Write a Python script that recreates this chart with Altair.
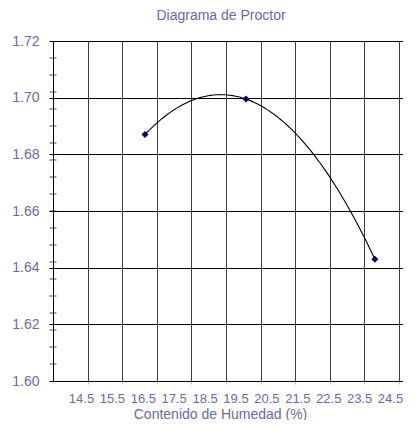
import altair as alt
import pandas as pd

# Data
moisture = [16.57, 19.84, 24.01]         # Contenido de Humedad (%)
density = [1.687, 1.6995, 1.643]         # densidad seca

x_labels = [14.5, 15.5, 16.5, 17.5, 18.5, 19.5, 20.5, 21.5, 22.5, 23.5, 24.5]
x_grid = [14.5, 15.5, 16.5, 17.5, 18.5, 19.5, 20.5, 21.5, 22.5, 23.5]
y_major = [1.60, 1.62, 1.64, 1.66, 1.68, 1.70, 1.72]
y_minor = [1.606, 1.612, 1.618, 1.624, 1.630, 1.636, 1.642, 1.648, 1.654,
           1.660, 1.666, 1.672, 1.678, 1.684, 1.690, 1.696, 1.702, 1.708, 1.714]

TXT = "#6a6aa6"
FONT = "Liberation Sans"

pts = pd.DataFrame({"moisture": moisture, "density": density})
grid_df = pd.DataFrame({"g": x_grid})
minor_df = pd.DataFrame({"m": y_minor})

yscale = alt.Scale(domain=[1.60, 1.72], nice=False, zero=False)
lab_scale = alt.Scale(domain=[13.594, 24.92], nice=False, zero=False)

grid_layer = alt.Chart(grid_df).mark_rule(opacity=0).encode(
    x=alt.X("g:Q",
            scale=alt.Scale(domain=[13.5, 23.613], nice=False, zero=False),
            axis=alt.Axis(orient="bottom", values=x_grid, grid=True, gridColor="#3c3c3c",
                          gridOpacity=1, gridWidth=1, labels=False, ticks=True,
                          tickSize=3, tickColor="#bbbbbb", domain=True,
                          domainColor="#000000", domainWidth=1, title=None))
)

y_axis = alt.Axis(values=y_major, format=".2f", grid=True, gridColor="#000000",
                  gridOpacity=1, gridWidth=1, domain=True, domainColor="#000000",
                  tickColor="#000000", tickSize=4, labelColor=TXT, labelFont=FONT,
                  labelFontSize=14, labelPadding=10, title=None)

points = alt.Chart(pts).mark_point(shape="diamond", filled=True, size=50,
                                   color="#00006b", opacity=1).encode(
    x=alt.X("moisture:Q", scale=lab_scale,
            axis=alt.Axis(orient="bottom", values=x_labels, format=".1f", grid=False,
                          ticks=False, domain=False, labelColor=TXT, labelFont=FONT,
                          labelFontSize=13, labelPadding=21, labelBaseline="alphabetic",
                          labelOverlap=False, labelFlush=False,
                          title="Contenido de Humedad (%)", titleColor=TXT,
                          titleFont=FONT, titleFontSize=14, titleFontWeight="normal",
                          titleBaseline="alphabetic", titleX=167, titleY=37)),
    y=alt.Y("density:Q", scale=yscale, axis=y_axis),
)

curve = alt.Chart(pts).transform_regression(
    "moisture", "density", method="poly", order=2
).mark_line(color="#000000", strokeWidth=1.1).encode(
    x=alt.X("moisture:Q", scale=lab_scale, axis=None),
    y=alt.Y("density:Q", scale=yscale),
)

minor = alt.Chart(minor_df).mark_tick(color="#000000", size=7, thickness=1).encode(
    y=alt.Y("m:Q", scale=yscale),
    x=alt.value(0),
)

chart = alt.layer(grid_layer, curve, points, minor).resolve_scale(
    x="independent"
).properties(
    width=350,
    height=340,
    autosize=alt.AutoSizeParams(type="none"),
    padding={"left": 45, "top": 33, "right": 0, "bottom": 39},
    title=alt.TitleParams("Diagrama de Proctor", anchor="middle", frame="group",
                          dx=-7, offset=0, baseline="alphabetic", color=TXT,
                          font=FONT, fontSize=14, fontWeight="normal"),
).configure_view(strokeWidth=0).configure(background="white")

chart.save("out.html", embed_options={"renderer": "svg", "actions": False})
